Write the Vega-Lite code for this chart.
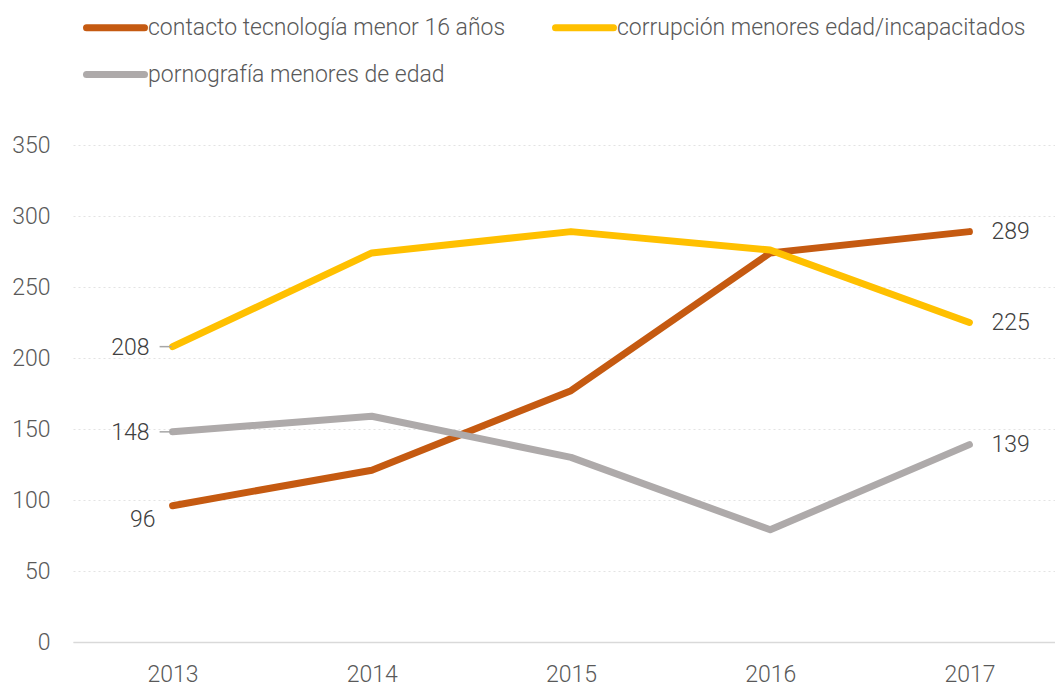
{
  "$schema": "https://vega.github.io/schema/vega-lite/v6.json",
  "width": 996,
  "height": 497,
  "autosize": "none",
  "padding": {"left": 73, "top": 145, "right": 0, "bottom": 45},
  "background": "white",
  "config": {
    "view": {"stroke": null},
    "font": "Roboto",
    "text": {"font": "Roboto"}
  },
  "data": {
    "values": [
      {"year": "2013", "serie": "contacto tecnología menor 16 años", "value": 96},
      {"year": "2014", "serie": "contacto tecnología menor 16 años", "value": 121},
      {"year": "2015", "serie": "contacto tecnología menor 16 años", "value": 177},
      {"year": "2016", "serie": "contacto tecnología menor 16 años", "value": 274},
      {"year": "2017", "serie": "contacto tecnología menor 16 años", "value": 289},
      {"year": "2013", "serie": "corrupción menores edad/incapacitados", "value": 208},
      {"year": "2014", "serie": "corrupción menores edad/incapacitados", "value": 274},
      {"year": "2015", "serie": "corrupción menores edad/incapacitados", "value": 289},
      {"year": "2016", "serie": "corrupción menores edad/incapacitados", "value": 276},
      {"year": "2017", "serie": "corrupción menores edad/incapacitados", "value": 225},
      {"year": "2013", "serie": "pornografía menores de edad", "value": 148},
      {"year": "2014", "serie": "pornografía menores de edad", "value": 159},
      {"year": "2015", "serie": "pornografía menores de edad", "value": 130},
      {"year": "2016", "serie": "pornografía menores de edad", "value": 79},
      {"year": "2017", "serie": "pornografía menores de edad", "value": 139}
    ]
  },
  "encoding": {
    "x": {
      "field": "year", "type": "ordinal",
      "scale": {"type": "point", "padding": 0.5},
      "axis": {
        "title": null, "labelAngle": 0, "ticks": false,
        "domain": true, "domainColor": "#D9D9D9", "domainWidth": 1.5,
        "labelFont": "Roboto", "labelFontWeight": 300, "labelFontSize": 23, "labelColor": "#595959",
        "labelPadding": 21, "grid": false
      }
    },
    "y": {
      "field": "value", "type": "quantitative",
      "scale": {"domain": [0, 350]},
      "axis": {
        "title": null, "values": [0, 50, 100, 150, 200, 250, 300, 350],
        "domain": false, "ticks": false,
        "labelFont": "Roboto", "labelFontWeight": 300, "labelFontSize": 23, "labelColor": "#595959",
        "labelPadding": 23,
        "grid": true, "gridColor": "#E3E3E3", "gridDash": [2, 3], "gridWidth": 1.2
      }
    }
  },
  "layer": [
    {
      "mark": {"type": "line", "strokeWidth": 7, "strokeCap": "round", "strokeJoin": "round"},
      "encoding": {
        "color": {
          "field": "serie", "type": "nominal",
          "scale": {
            "domain": ["contacto tecnología menor 16 años", "corrupción menores edad/incapacitados", "pornografía menores de edad"],
            "range": ["#C55A11", "#FFC000", "#AEAAAA"]
          },
          "legend": {
            "title": null, "orient": "none", "legendX": 10, "legendY": -150,
            "direction": "horizontal",
            "columns": 2, "columnPadding": 35, "rowPadding": -12,
            "symbolType": "stroke", "symbolSize": 3364, "symbolStrokeWidth": 7,
            "labelFont": "Roboto", "labelFontWeight": 300, "labelFontSize": 23, "labelColor": "#595959",
            "labelOffset": 0, "labelLimit": 600,
            "encode": {"symbols": {"update": {"strokeCap": {"value": "round"}}}}
          }
        }
      }
    },
    {
      "transform": [{"filter": "datum.year == '2017'"}],
      "mark": {"type": "text", "align": "left", "baseline": "middle", "dx": 22, "fontSize": 23, "fontWeight": 300, "color": "#404040", "font": "Roboto"},
      "encoding": {"text": {"field": "value", "type": "quantitative"}}
    },
    {
      "transform": [{"filter": "datum.year == '2013' && datum.serie != 'contacto tecnología menor 16 años'"}],
      "mark": {"type": "text", "align": "right", "baseline": "middle", "dx": -23, "dy": 1, "fontSize": 23, "fontWeight": 300, "color": "#404040", "font": "Roboto"},
      "encoding": {"text": {"field": "value", "type": "quantitative"}}
    },
    {
      "transform": [{"filter": "datum.year == '2013' && datum.serie != 'contacto tecnología menor 16 años'"}],
      "mark": {"type": "point", "shape": "M-1.3,0L-0.1,0", "size": 400, "filled": false, "stroke": "#A6A6A6", "strokeWidth": 1.5, "opacity": 1}
    },
    {
      "transform": [{"filter": "datum.year == '2013' && datum.serie == 'contacto tecnología menor 16 años'"}],
      "mark": {"type": "text", "align": "right", "baseline": "middle", "dx": -17, "dy": 14, "fontSize": 23, "fontWeight": 300, "color": "#404040", "font": "Roboto"},
      "encoding": {"text": {"field": "value", "type": "quantitative"}}
    }
  ]
}
